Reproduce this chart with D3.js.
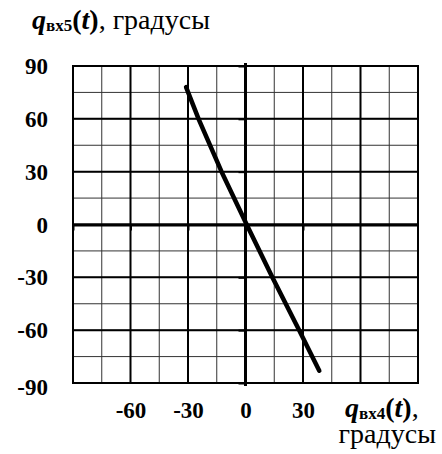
<!DOCTYPE html>
<html>
<head>
<meta charset="utf-8">
<script src="https://cdn.jsdelivr.net/npm/d3@7"></script>
<style>
  body { margin: 0; background: #fff; }
  svg { display: block; font-family: "Liberation Serif"; }
</style>
</head>
<body>
<svg id="chart"></svg>
<script>
// Data: q_вх4 (x) vs q_вх5 (y), degrees
const qIn4 = [-31, -24.5, -12.5, 0.6, 14, 28, 38.5];
const qIn5 = [78, 60, 30, 0, -30, -60, -83];

const gridMinor = d3.range(-90, 91, 15);
const gridMajor = d3.range(-90, 91, 30);
const xTickLabels = [-60, -30, 0, 30];
const yTickLabels = [90, 60, 30, 0, -30, -60, -90];

const FONT = '"Liberation Serif"';
const width = 442, height = 454;
const margin = { top: 66, right: 24, bottom: 71, left: 73 };

const svg = d3.select('#chart')
    .attr('width', width).attr('height', height)
    .attr('font-family', 'Liberation Serif');

const x = d3.scaleLinear().domain([-90, 90]).range([margin.left, width - margin.right]);
const y = d3.scaleLinear().domain([-90, 90]).range([height - margin.bottom, margin.top]);

// minor grid
const grid = svg.append('g');
grid.selectAll('.vmin').data(gridMinor).enter().append('line')
    .attr('x1', d => x(d)).attr('x2', d => x(d))
    .attr('y1', y(-90)).attr('y2', y(90))
    .attr('stroke', '#333').attr('stroke-width', 1);
grid.selectAll('.hmin').data(gridMinor).enter().append('line')
    .attr('y1', d => y(d)).attr('y2', d => y(d))
    .attr('x1', x(-90)).attr('x2', x(90))
    .attr('stroke', '#333').attr('stroke-width', 1);

// major grid
grid.selectAll('.vmaj').data(gridMajor).enter().append('line')
    .attr('x1', d => x(d)).attr('x2', d => x(d))
    .attr('y1', y(-90)).attr('y2', y(90))
    .attr('stroke', '#000').attr('stroke-width', 2);
grid.selectAll('.hmaj').data(gridMajor).enter().append('line')
    .attr('y1', d => y(d)).attr('y2', d => y(d))
    .attr('x1', x(-90) - 1).attr('x2', x(90) + 1)
    .attr('stroke', '#000').attr('stroke-width', 2);

// zero axes with small ticks
const xAxisZero = d3.axisBottom(x).tickValues([-90, -60, -30, 30])
    .tickSize(6).tickSizeOuter(0).tickFormat('');
svg.append('g').attr('transform', `translate(0,${y(0)})`).call(xAxisZero)
    .call(g => g.select('.domain').attr('stroke-width', 3))
    .call(g => g.selectAll('.tick line').attr('stroke-width', 2));

const yAxisZero = d3.axisLeft(y).tickValues(gridMajor.filter(d => d !== 0))
    .tickSize(7).tickSizeOuter(0).tickFormat('');
svg.append('g').attr('transform', `translate(${x(0)},0)`).call(yAxisZero)
    .call(g => g.select('.domain').attr('stroke-width', 3)
        .attr('d', `M0,${y(90) - 3}V${y(-90) + 3}`))
    .call(g => g.selectAll('.tick line').attr('stroke-width', 2));

// tick labels (hyphen-minus as in the picture)
const fmt = d => String(d);
const yAxis = d3.axisLeft(y).tickValues(yTickLabels).tickSize(0).tickPadding(25).tickFormat(fmt);
svg.append('g').attr('transform', `translate(${x(-90)},0)`).call(yAxis)
    .attr('font-family', 'Liberation Serif').attr('font-size', 23)
    .call(g => g.select('.domain').remove())
    .call(g => g.selectAll('text')
        .style('font-family', FONT)
        .style('font-size', '23px').style('font-weight', 'bold')
        .attr('dy', d => d === -90 ? '0.5em' : '0.33em'));

const xAxis = d3.axisBottom(x).tickValues(xTickLabels).tickSize(0).tickPadding(19).tickFormat(fmt);
svg.append('g').attr('transform', `translate(0,${y(-90)})`).call(xAxis)
    .attr('font-family', 'Liberation Serif').attr('font-size', 23)
    .call(g => g.select('.domain').remove())
    .call(g => g.selectAll('text')
        .style('font-family', FONT)
        .style('font-size', '23px').style('font-weight', 'bold'));

// data line
const pts = qIn4.map((v, i) => [v, qIn5[i]]);
svg.append('path')
    .datum(pts)
    .attr('fill', 'none')
    .attr('stroke', '#000')
    .attr('stroke-width', 4.5)
    .attr('stroke-linecap', 'round')
    .attr('stroke-linejoin', 'round')
    .attr('d', d3.line().x(d => x(d[0])).y(d => y(d[1])));

// axis titles
function qLabel(sel, sub, tail) {
  sel.append('tspan').attr('font-weight', 'bold').attr('font-style', 'italic').text('q');
  sel.append('tspan').attr('font-weight', 'bold').attr('font-size', '17px').attr('dy', 2).text(sub);
  sel.append('tspan').attr('font-weight', 'bold').attr('dy', -2).text('(');
  sel.append('tspan').attr('font-weight', 'bold').attr('font-style', 'italic').text('t');
  sel.append('tspan').attr('font-weight', 'bold').text(')');
  sel.append('tspan').text(tail);
}

const yTitle = svg.append('text').attr('x', 32).attr('y', 29)
    .attr('font-family', 'Liberation Serif')
    .style('font-family', FONT).style('font-size', '28px');
qLabel(yTitle, 'вх5', ', градусы');

const xTitle = svg.append('text').attr('x', 345).attr('y', 417)
    .attr('font-family', 'Liberation Serif')
    .style('font-family', FONT).style('font-size', '28px');
qLabel(xTitle, 'вх4', ',');
svg.append('text').attr('x', 436).attr('y', 443).attr('text-anchor', 'end')
    .attr('font-family', 'Liberation Serif')
    .style('font-family', FONT).style('font-size', '28px').text('градусы');
</script>
</body>
</html>
